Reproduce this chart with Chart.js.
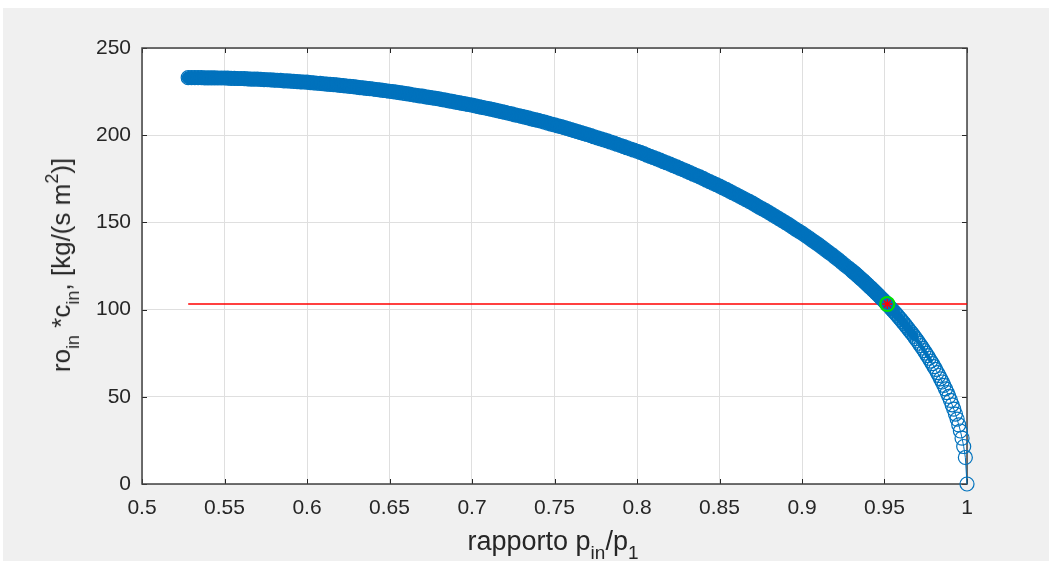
<!DOCTYPE html>
<html>
<head>
<meta charset="utf-8">
<script src="https://cdn.jsdelivr.net/npm/chart.js@4.4.1/dist/chart.umd.min.js"></script>
<style>
  html, body { margin: 0; padding: 0; background: #fff; }
  #wrap { position: relative; width: 1049px; height: 561px; overflow: hidden; }
  #chart { position: absolute; left: 0; top: 0; }
  .axis-title {
    position: absolute;
    font-family: "Liberation Sans", Arial, sans-serif;
    font-size: 27px;
    line-height: 32px;
    color: #262626;
    white-space: nowrap;
  }
  .axis-title sub { font-size: 19px; vertical-align: -9px; line-height: 0; }
  .axis-title sup { font-size: 19px; vertical-align: 12px; line-height: 0; }
  #xtitle { left: 553px; top: 525px; transform: translateX(-50%); }
  #ytitle { left: 61px; top: 265px; font-size: 26px; transform: translate(-50%, -50%) rotate(-90deg); }
  #ytitle sub, #ytitle sup { font-size: 18px; }
</style>
</head>
<body>
<div id="wrap">
  <canvas id="chart" width="1049" height="561"></canvas>
  <div class="axis-title" id="xtitle">rapporto p<sub>in</sub>/p<sub>1</sub></div>
  <div class="axis-title" id="ytitle">ro<sub>in</sub> *c<sub>in</sub>, [kg/(s m<sup>2</sup>)]</div>
</div>
<script>
// rapporto p_in/p_1 (passo 0.002 fino a 0.93, poi 0.001)
const pressureRatio = [
  0.528, 0.530, 0.532, 0.534, 0.536, 0.538, 0.540, 0.542, 0.544, 0.546,
  0.548, 0.550, 0.552, 0.554, 0.556, 0.558, 0.560, 0.562, 0.564, 0.566,
  0.568, 0.570, 0.572, 0.574, 0.576, 0.578, 0.580, 0.582, 0.584, 0.586,
  0.588, 0.590, 0.592, 0.594, 0.596, 0.598, 0.600, 0.602, 0.604, 0.606,
  0.608, 0.610, 0.612, 0.614, 0.616, 0.618, 0.620, 0.622, 0.624, 0.626,
  0.628, 0.630, 0.632, 0.634, 0.636, 0.638, 0.640, 0.642, 0.644, 0.646,
  0.648, 0.650, 0.652, 0.654, 0.656, 0.658, 0.660, 0.662, 0.664, 0.666,
  0.668, 0.670, 0.672, 0.674, 0.676, 0.678, 0.680, 0.682, 0.684, 0.686,
  0.688, 0.690, 0.692, 0.694, 0.696, 0.698, 0.700, 0.702, 0.704, 0.706,
  0.708, 0.710, 0.712, 0.714, 0.716, 0.718, 0.720, 0.722, 0.724, 0.726,
  0.728, 0.730, 0.732, 0.734, 0.736, 0.738, 0.740, 0.742, 0.744, 0.746,
  0.748, 0.750, 0.752, 0.754, 0.756, 0.758, 0.760, 0.762, 0.764, 0.766,
  0.768, 0.770, 0.772, 0.774, 0.776, 0.778, 0.780, 0.782, 0.784, 0.786,
  0.788, 0.790, 0.792, 0.794, 0.796, 0.798, 0.800, 0.802, 0.804, 0.806,
  0.808, 0.810, 0.812, 0.814, 0.816, 0.818, 0.820, 0.822, 0.824, 0.826,
  0.828, 0.830, 0.832, 0.834, 0.836, 0.838, 0.840, 0.842, 0.844, 0.846,
  0.848, 0.850, 0.852, 0.854, 0.856, 0.858, 0.860, 0.862, 0.864, 0.866,
  0.868, 0.870, 0.872, 0.874, 0.876, 0.878, 0.880, 0.882, 0.884, 0.886,
  0.888, 0.890, 0.892, 0.894, 0.896, 0.898, 0.900, 0.902, 0.904, 0.906,
  0.908, 0.910, 0.912, 0.914, 0.916, 0.918, 0.920, 0.922, 0.924, 0.926,
  0.928, 0.930,
  0.931, 0.932, 0.933, 0.934, 0.935, 0.936, 0.937, 0.938, 0.939, 0.940,
  0.941, 0.942, 0.943, 0.944, 0.945, 0.946, 0.947, 0.948, 0.949, 0.950,
  0.951, 0.952, 0.953, 0.954, 0.955, 0.956, 0.957, 0.958, 0.959, 0.960,
  0.961, 0.962, 0.963, 0.964, 0.965, 0.966, 0.967, 0.968, 0.969, 0.970,
  0.971, 0.972, 0.973, 0.974, 0.975, 0.976, 0.977, 0.978, 0.979, 0.980,
  0.981, 0.982, 0.983, 0.984, 0.985, 0.986, 0.987, 0.988, 0.989, 0.990,
  0.991, 0.992, 0.993, 0.994, 0.995, 0.996, 0.997, 0.998, 0.999, 1.000
];

// ro_in * c_in [kg/(s m^2)]
const massFlux = [
  233.0, 233.0, 233.0, 233.0, 233.0, 232.9, 232.9, 232.9, 232.9, 232.8,
  232.8, 232.8, 232.7, 232.6, 232.6, 232.5, 232.5, 232.4, 232.3, 232.2,
  232.1, 232.1, 232.0, 231.9, 231.8, 231.7, 231.6, 231.5, 231.4, 231.2,
  231.1, 231.0, 230.9, 230.7, 230.6, 230.5, 230.4, 230.2, 230.0, 229.8,
  229.7, 229.5, 229.3, 229.1, 229.0, 228.8, 228.6, 228.4, 228.2, 228.0,
  227.8, 227.6, 227.3, 227.1, 226.9, 226.7, 226.5, 226.2, 226.0, 225.7,
  225.5, 225.2, 225.0, 224.7, 224.4, 224.1, 223.8, 223.5, 223.2, 222.9,
  222.6, 222.4, 222.0, 221.7, 221.4, 221.1, 220.8, 220.4, 220.1, 219.7,
  219.4, 219.0, 218.7, 218.3, 218.0, 217.6, 217.2, 216.8, 216.4, 216.0,
  215.6, 215.2, 214.8, 214.4, 213.9, 213.5, 213.1, 212.6, 212.2, 211.7,
  211.3, 210.8, 210.4, 209.9, 209.4, 208.9, 208.5, 208.0, 207.5, 206.9,
  206.4, 205.9, 205.4, 204.9, 204.3, 203.8, 203.2, 202.6, 202.1, 201.5,
  200.9, 200.4, 199.7, 199.1, 198.5, 197.9, 197.3, 196.7, 196.1, 195.4,
  194.8, 194.1, 193.5, 192.8, 192.1, 191.5, 190.8, 190.1, 189.4, 188.6,
  187.9, 187.2, 186.4, 185.7, 184.9, 184.2, 183.4, 182.6, 181.8, 181.0,
  180.2, 179.4, 178.6, 177.7, 176.9, 176.1, 175.2, 174.3, 173.4, 172.5,
  171.7, 170.8, 169.8, 168.9, 167.9, 167.0, 166.0, 165.0, 164.0, 163.0,
  162.0, 161.0, 159.9, 158.8, 157.7, 156.7, 155.6, 154.5, 153.3, 152.2,
  151.0, 149.9, 148.7, 147.5, 146.2, 145.0, 143.8, 142.5, 141.2, 139.8,
  138.5, 137.2, 135.8, 134.4, 133.0, 131.6, 130.1, 128.6, 127.1, 125.5,
  124.0, 122.5,
  121.7, 120.9, 120.0, 119.2, 118.4, 117.5, 116.7, 115.8, 114.9, 114.0,
  113.1, 112.3, 111.3, 110.4, 109.5, 108.6, 107.6, 106.6, 105.7, 104.7,
  103.7, 102.7, 101.7, 100.6, 99.6, 98.5, 97.5, 96.4, 95.3, 94.2,
  93.0, 91.9, 90.7, 89.5, 88.3, 87.1, 85.9, 84.6, 83.3, 82.0,
  80.7, 79.3, 77.9, 76.5, 75.1, 73.6, 72.1, 70.5, 69.0, 67.3,
  65.7, 63.9, 62.2, 60.3, 58.5, 56.5, 54.5, 52.4, 50.2, 47.9,
  45.4, 42.9, 40.1, 37.2, 33.9, 30.4, 26.3, 21.5, 15.2, 0.0
];

// linea rossa (portata richiesta) e punto di lavoro
const targetRange = [0.528, 1.0];
const targetFlux = [103.2, 103.2];
const matchRatio = [0.9517];
const matchFlux = [103.2];

const xTicks = [0.5, 0.55, 0.6, 0.65, 0.7, 0.75, 0.8, 0.85, 0.9, 0.95, 1];
const yTicks = [0, 50, 100, 150, 200, 250];

const tickFont = { family: '"Liberation Sans", Arial, sans-serif', size: 21 };

// sfondo grigio, box degli assi e tacche verso l'interno (stile MATLAB)
const matlabFrame = {
  id: 'matlabFrame',
  beforeDraw(chart) {
    const ctx = chart.ctx;
    const a = chart.chartArea;
    ctx.save();
    ctx.fillStyle = '#f0f0f0';
    ctx.fillRect(3, 8, chart.width - 3, chart.height - 8);
    ctx.fillStyle = '#ffffff';
    ctx.fillRect(a.left, a.top, a.right - a.left, a.bottom - a.top);
    ctx.restore();
  },
  beforeDatasetsDraw(chart) {
    const ctx = chart.ctx;
    const a = chart.chartArea;
    const xs = chart.scales.x;
    const ys = chart.scales.y;
    const len = 5;
    ctx.save();
    ctx.strokeStyle = '#262626';
    ctx.lineWidth = 1;
    ctx.beginPath();
    xTicks.forEach(v => {
      const px = Math.round(xs.getPixelForValue(v)) + 0.5;
      ctx.moveTo(px, a.bottom); ctx.lineTo(px, a.bottom - len);
      ctx.moveTo(px, a.top); ctx.lineTo(px, a.top + len);
    });
    yTicks.forEach(v => {
      const py = Math.round(ys.getPixelForValue(v)) + 0.5;
      ctx.moveTo(a.left, py); ctx.lineTo(a.left + len, py);
      ctx.moveTo(a.right, py); ctx.lineTo(a.right - len, py);
    });
    ctx.stroke();
    ctx.strokeStyle = '#404040';
    ctx.lineWidth = 1.5;
    ctx.strokeRect(a.left, a.top, a.right - a.left, a.bottom - a.top);
    ctx.restore();
  }
};

// spessore della banda: i marker fitti si fondono, poi si separano vicino a 1
function bandWidth(ctx) {
  const x = ctx.p0.parsed.x;
  if (x < 0.955) return 13;
  if (x < 0.968) return 9;
  if (x < 0.978) return 4;
  return 1;
}

new Chart(document.getElementById('chart'), {
  type: 'scatter',
  data: {
    datasets: [
      {
        label: 'punto (stella)',
        data: matchRatio.map((x, i) => ({ x: x, y: matchFlux[i] })),
        pointStyle: 'star',
        pointRadius: 5,
        pointBorderColor: '#ff0000',
        pointBorderWidth: 1.3,
        showLine: false,
        clip: false,
        order: 1
      },
      {
        label: 'punto (cerchio)',
        data: matchRatio.map((x, i) => ({ x: x, y: matchFlux[i] })),
        pointStyle: 'circle',
        pointRadius: 7,
        pointBorderColor: '#00e000',
        pointBackgroundColor: 'rgba(0,0,0,0)',
        pointBorderWidth: 2.2,
        showLine: false,
        clip: false,
        order: 2
      },
      {
        label: 'ro*c',
        data: pressureRatio.map((x, i) => ({ x: x, y: massFlux[i] })),
        borderColor: '#0072bd',
        borderWidth: 1,
        borderJoinStyle: 'round',
        borderCapStyle: 'round',
        segment: { borderWidth: bandWidth },
        pointRadius: 7,
        pointBorderColor: '#0072bd',
        pointBackgroundColor: 'rgba(0,0,0,0)',
        pointBorderWidth: 1.2,
        showLine: true,
        clip: false,
        order: 3
      },
      {
        label: 'portata richiesta',
        data: targetRange.map((x, i) => ({ x: x, y: targetFlux[i] })),
        borderColor: '#ff0000',
        borderWidth: 1.5,
        pointRadius: 0,
        showLine: true,
        order: 4
      }
    ]
  },
  options: {
    responsive: false,
    animation: false,
    events: [],
    layout: { padding: { left: 0, top: 48, right: 82, bottom: 0 } },
    plugins: {
      legend: { display: false },
      tooltip: { enabled: false }
    },
    scales: {
      x: {
        type: 'linear',
        min: 0.5,
        max: 1,
        afterBuildTicks: s => { s.ticks = xTicks.map(v => ({ value: v })); },
        afterFit: s => { s.height = 77; },
        grid: { color: '#dfdfdf', lineWidth: 1, drawTicks: false },
        border: { display: false },
        ticks: {
          callback: v => String(v),
          font: tickFont,
          color: '#262626',
          padding: 12,
          maxRotation: 0,
          autoSkip: false
        }
      },
      y: {
        type: 'linear',
        min: 0,
        max: 250,
        afterBuildTicks: s => { s.ticks = yTicks.map(v => ({ value: v })); },
        afterFit: s => { s.width = 142; },
        grid: { color: '#dfdfdf', lineWidth: 1, drawTicks: false },
        border: { display: false },
        ticks: {
          callback: v => String(v),
          font: tickFont,
          color: '#262626',
          padding: 11,
          autoSkip: false
        }
      }
    }
  },
  plugins: [matlabFrame]
});
</script>
</body>
</html>
